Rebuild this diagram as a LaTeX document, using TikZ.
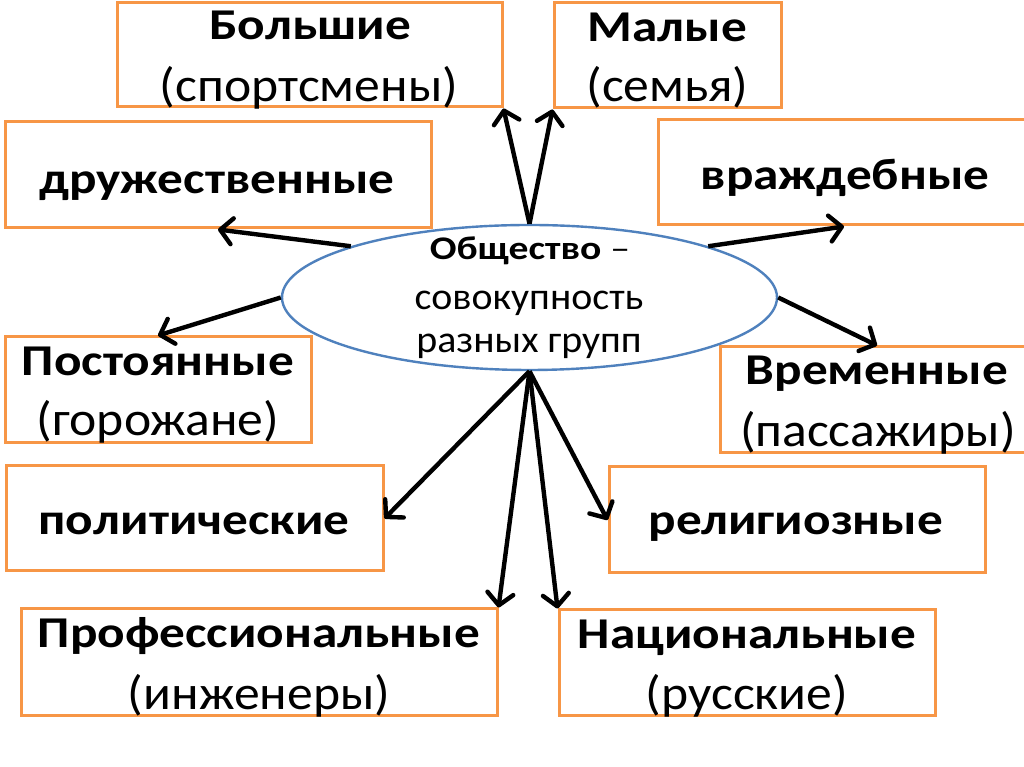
\documentclass[tikz,border=0pt]{standalone}
\usepackage{fontspec}
\setmainfont{Carlito}
\usetikzlibrary{arrows.meta,shapes.geometric}
\definecolor{boxorange}{RGB}{247,150,70}
\definecolor{ellblue}{RGB}{79,129,189}
\newcommand{\grpbold}[1]{\scalebox{1.165}[1]{\fontsize{44}{48}\selectfont\bfseries #1}}
\newcommand{\grpreg}[1]{\scalebox{1.075}[1]{\fontsize{48}{52}\selectfont #1}}
\newcommand{\socbold}[1]{\scalebox{1.2}[1]{\fontsize{33}{36}\selectfont\bfseries #1}}
\newcommand{\socreg}[1]{\scalebox{1.05}[1]{\fontsize{38}{40}\selectfont #1}}
\tikzset{
  grpbox/.style={draw=boxorange, line width=3pt, rectangle, inner sep=0pt, fill=none},
  lbl/.style={anchor=base, inner sep=0pt, text=black},
  link/.style={draw=black, line width=4.4pt, -{Straight Barb[length=12pt,width=26pt,round]}}
}
\begin{document}
\begin{tikzpicture}[x=1pt,y=1pt]
\useasboundingbox (0,0) rectangle (1024,767);
\fill[white] (0,0) rectangle (1024,767);
% boxes
\node[grpbox, minimum width=385pt, minimum height=104pt] (big) at (309.5,712) {};
\node[grpbox, minimum width=426pt, minimum height=106pt] (friend) at (218,592) {};
\node[grpbox, minimum width=227pt, minimum height=105pt] (small) at (667.5,711.5) {};
\node[grpbox, minimum width=372pt, minimum height=105pt] (hostile) at (844,594.5) {};
\node[grpbox, minimum width=306pt, minimum height=106pt] (perm) at (158,377) {};
\node[grpbox, minimum width=314pt, minimum height=106pt] (temp) at (877,367) {};
\node[grpbox, minimum width=377pt, minimum height=105pt] (polit) at (194.5,248.5) {};
\node[grpbox, minimum width=376pt, minimum height=106pt] (relig) at (797,247) {};
\node[grpbox, minimum width=476pt, minimum height=107pt] (prof) at (259,104.5) {};
\node[grpbox, minimum width=376pt, minimum height=106pt] (nat) at (747,104) {};
% ellipse
\node[ellipse, draw=ellblue, line width=2.4pt, minimum width=495pt, minimum height=145pt, inner sep=0pt] (soc) at (529.5,469.5) {};
% labels
\node[lbl] (bigA) at (310,727) {\grpbold{Большие}};
\node[lbl] (bigB) at (309,665) {\grpreg{(спортсмены)}};
\node[lbl] (smallA) at (667.5,725) {\grpbold{Малые}};
\node[lbl] (smallB) at (667.5,665) {\grpreg{(семья)}};
\node[lbl] (friendA) at (217,573) {\grpbold{дружественные}};
\node[lbl] (hostileA) at (845,577) {\grpbold{враждебные}};
\node[lbl] (permA) at (158,391) {\grpbold{Постоянные}};
\node[lbl] (permB) at (158,331) {\grpreg{(горожане)}};
\node[lbl] (tempA) at (877,382) {\grpbold{Временные}};
\node[lbl] (tempB) at (878,320) {\grpreg{(пассажиры)}};
\node[lbl] (politA) at (194,232) {\grpbold{политические}};
\node[lbl] (religA) at (796,232) {\grpbold{религиозные}};
\node[lbl] (profA) at (259,119) {\grpbold{Профессиональные}};
\node[lbl] (profB) at (259,57) {\grpreg{(инженеры)}};
\node[lbl] (natA) at (747,118) {\grpbold{Национальные}};
\node[lbl] (natB) at (747,57) {\grpreg{(русские)}};
\node[lbl] (socA) at (530,507) {\socbold{Общество \textmd{–}}};
\node[lbl] (socB) at (529,457) {\socreg{совокупность}};
\node[lbl] (socC) at (529,414) {\socreg{разных групп}};
% connectors
\draw[link] (soc.north) -- (big.south east);
\draw[link] (soc.north) -- (small.south west);
\draw[link] (soc.164) -- (friend.south);
\draw[link] (soc.16) -- (hostile.south);
\draw[link] (soc.west) -- (perm.north);
\draw[link] (soc.east) -- (temp.north);
\draw[link] (soc.south) -- (polit.east);
\draw[link] (soc.south) -- (prof.north east);
\draw[link] (soc.south) -- (relig.west);
\draw[link] (soc.south) -- (nat.north west);
\end{tikzpicture}
\end{document}
